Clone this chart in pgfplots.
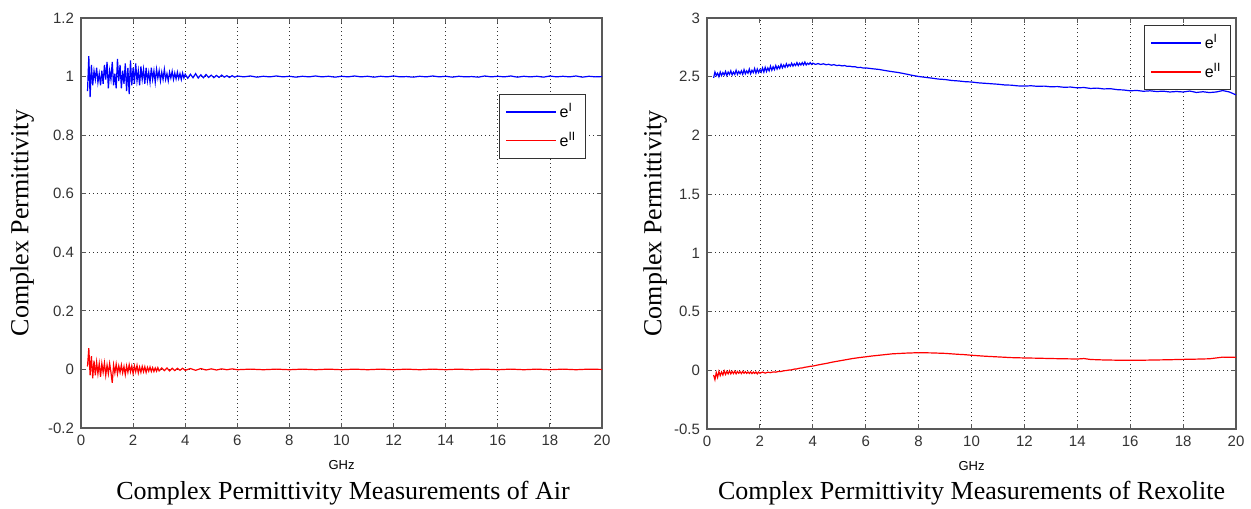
\documentclass[border=0pt]{standalone}
\usepackage{fontspec}
\setmainfont{Liberation Serif}
\setsansfont{Liberation Sans}
\usepackage{pgfplots}
\pgfplotsset{compat=1.18}
\pgfplotsset{
 mystyle/.style={
  scale only axis, anchor=north west,
  xmin=0,xmax=20, xtick={0,2,...,20},
  xticklabels={0,2,4,6,8,10,12,14,16,18,20},
  tick align=inside, major tick length=2.5pt,
  grid=major, major grid style={black!80, line width=0.4pt, dash pattern=on 0.4pt off 1.6pt},
  axis line style={black!65, line width=0.7pt},
  every tick/.style={black!65, line width=0.5pt},
  ticklabel style={font=\sffamily\fontsize{7.5}{8}\selectfont, text=black!80},
  xlabel={GHz}, xlabel style={font=\sffamily\fontsize{6.5}{7}\selectfont, at={(axis description cs:0.5,-0.09)}, anchor=center},
  ylabel={Complex Permittivity}, ylabel style={font=\fontsize{13}{14}\selectfont, anchor=center},
  legend style={draw=black!80, line width=0.6pt, fill=white, font=\sffamily\fontsize{8}{9}\selectfont, anchor=north west, inner xsep=3pt, inner ysep=3pt, row sep=3pt, nodes={inner sep=1.5pt}},
  legend cell align=left,
  legend image code/.code={\draw[#1] (0pt,0pt) -- (25pt,0pt);},
  every axis plot/.append style={line width=0.6pt, mark=none},
 }}
\begin{document}
\begin{tikzpicture}[x=1pt,y=1pt]
\path[use as bounding box] (0,0) rectangle (625.5,-254);
% ---------------- Left: Air ----------------
\begin{axis}[mystyle, at={(40.5pt,-9pt)}, width=260.5pt, height=205pt,
  ymin=-0.2, ymax=1.2, ytick={-0.2,0,0.2,0.4,0.6,0.8,1,1.2},
  yticklabels={-0.2,0,0.2,0.4,0.6,0.8,1,1.2},
  ylabel style={at={(axis description cs:-0.113,0.5)}},
  legend style={at={(0.802,0.815)}}]
\addplot[blue] coordinates {
(0.25,0.95)(0.30,1.07)(0.35,0.93)(0.40,1.04)(0.45,0.97)(0.50,1.02)(0.55,0.99)(0.60,1.03)(0.65,0.98)(0.70,1.01)
(0.75,0.97)(0.80,1.02)(0.85,0.975)(0.90,1.04)(0.95,0.99)(1.00,1.05)(1.05,0.96)(1.10,1.02)(1.15,0.99)(1.20,1.05)
(1.25,0.97)(1.30,1.01)(1.35,0.96)(1.40,1.06)(1.45,0.985)(1.50,1.04)(1.55,0.96)(1.60,1.02)(1.65,0.975)(1.70,1.045)
(1.75,0.95)(1.80,1.03)(1.85,0.94)(1.90,1.055)(1.95,0.97)(2.00,1.03)(2.05,0.975)(2.10,1.045)(2.15,0.985)(2.20,1.02)
(2.25,0.97)(2.30,1.035)(2.35,0.99)(2.40,1.025)(2.45,0.975)(2.50,1.03)(2.55,0.985)(2.60,1.015)(2.65,0.98)(2.70,1.03)
(2.75,0.99)(2.80,1.02)(2.85,0.98)(2.90,1.025)(2.95,0.995)(3.00,1.02)(3.05,0.985)(3.10,1.015)(3.15,0.99)(3.20,1.025)
(3.25,0.99)(3.30,1.01)(3.35,0.985)(3.40,1.015)(3.45,0.995)(3.50,1.018)(3.55,0.99)(3.60,1.012)(3.65,0.992)(3.70,1.015)
(3.75,0.993)(3.80,1.01)(3.85,0.99)(3.90,1.012)(3.95,0.995)(4.00,1.008)
(4.1,0.994)(4.2,1.008)(4.3,0.996)(4.4,1.01)(4.5,0.995)(4.6,1.006)(4.7,0.996)(4.8,1.007)(4.9,0.997)(5.0,1.005)
(5.1,0.996)(5.2,1.004)(5.3,0.997)(5.4,1.005)(5.5,0.998)(5.6,1.003)(5.7,0.997)(5.8,1.003)(5.9,0.998)(6.0,1.002)
(6.25,0.999)(6.5,1.002)(6.75,0.998)(7,1.001)(7.25,0.999)(7.5,1.002)(7.75,0.999)(8,1.001)(8.25,0.998)(8.5,1.001)
(8.75,0.999)(9,1.002)(9.25,0.999)(9.5,1.001)(9.75,0.998)(10,1.001)(10.25,0.999)(10.5,1.002)(10.75,0.999)(11,1.001)
(11.25,0.998)(11.5,1.001)(11.75,0.999)(12,1.002)(12.25,0.999)(12.5,1.0)(12.75,0.998)(13,1.001)(13.25,0.999)(13.5,1.002)
(13.75,0.999)(14,1.001)(14.25,0.998)(14.5,1.001)(14.75,0.999)(15,1.0)(15.25,0.998)(15.5,1.002)(15.75,0.999)(16,1.001)
(16.25,0.999)(16.5,1.002)(16.75,0.998)(17,1.001)(17.25,0.999)(17.5,1.001)(17.75,0.998)(18,1.002)(18.25,0.999)(18.5,1.001)
(18.75,0.999)(19,1.002)(19.25,0.998)(19.5,1.001)(19.75,0.999)(20,1.0)};
\addlegendentry{e\textsuperscript{I}}
\addplot[red] coordinates {
(0.25,0.01)(0.30,0.073)(0.35,-0.02)(0.40,0.045)(0.45,-0.03)(0.50,0.03)(0.55,-0.02)(0.60,0.025)(0.65,-0.015)(0.70,0.02)
(0.75,-0.025)(0.80,0.02)(0.85,-0.01)(0.90,0.022)(0.95,-0.02)(1.00,0.015)(1.05,-0.015)(1.10,0.02)(1.15,-0.01)(1.20,-0.046)
(1.25,0.015)(1.30,-0.012)(1.35,0.018)(1.40,-0.015)(1.45,0.012)(1.50,-0.01)(1.55,0.015)(1.60,-0.012)(1.65,0.01)(1.70,-0.018)
(1.75,0.012)(1.80,-0.01)(1.85,0.016)(1.90,-0.008)(1.95,0.012)(2.00,-0.014)(2.05,0.012)(2.10,-0.008)(2.15,0.014)(2.20,-0.012)
(2.25,0.008)(2.30,-0.01)(2.35,0.01)(2.40,-0.008)(2.45,0.009)(2.50,-0.01)(2.55,0.007)(2.60,-0.006)(2.65,0.008)(2.70,-0.007)
(2.75,0.006)(2.80,-0.007)(2.85,0.005)(2.90,-0.006)(2.95,0.006)(3.00,-0.005)(3.1,0.005)(3.2,-0.004)(3.3,0.005)(3.4,-0.005)
(3.5,0.004)(3.6,-0.004)(3.7,0.004)(3.8,-0.003)(3.9,0.004)(4.0,-0.003)(4.2,0.003)(4.4,-0.003)(4.6,0.003)(4.8,-0.002)
(5.0,0.002)(5.2,-0.002)(5.4,0.002)(5.6,-0.001)(5.8,0.002)(6.0,-0.001)(6.5,0.001)(7,-0.001)(7.5,0.001)(8,-0.001)
(8.5,0.001)(9,-0.001)(9.5,0.001)(10,-0.001)(10.5,0.001)(11,-0.001)(11.5,0.001)(12,-0.001)(12.5,0.001)(13,-0.001)
(13.5,0.001)(14,-0.001)(14.5,0.001)(15,-0.001)(15.5,0.001)(16,-0.001)(16.5,0.001)(17,-0.001)(17.5,0.001)(18,-0.001)
(18.5,0.001)(19,-0.001)(19.5,0.001)(20,0.0)};
\addlegendentry{e\textsuperscript{II}}
\end{axis}
\node[font=\fontsize{13}{15}\selectfont, anchor=center] at (171.5,-246.5) {Complex Permittivity Measurements of Air};
% ---------------- Right: Rexolite ----------------
\begin{axis}[mystyle, at={(353.5pt,-9pt)}, width=264.5pt, height=205.5pt,
  ymin=-0.5, ymax=3, ytick={-0.5,0,0.5,1,1.5,2,2.5,3},
  yticklabels={-0.5,0,0.5,1,1.5,2,2.5,3},
  ylabel style={at={(axis description cs:-0.098,0.5)}},
  legend style={at={(0.826,0.983)}}]
\addplot[blue] coordinates {
(0.25,2.49)(0.30,2.54)(0.35,2.51)(0.40,2.53)(0.45,2.50)(0.50,2.54)(0.55,2.51)(0.60,2.535)(0.65,2.515)(0.70,2.545)
(0.75,2.51)(0.80,2.54)(0.85,2.52)(0.90,2.55)(0.95,2.515)(1.00,2.54)(1.05,2.52)(1.10,2.555)(1.15,2.52)(1.20,2.545)
(1.25,2.525)(1.30,2.55)(1.35,2.52)(1.40,2.56)(1.45,2.525)(1.50,2.55)(1.55,2.53)(1.60,2.565)(1.65,2.525)(1.70,2.555)
(1.75,2.535)(1.80,2.57)(1.85,2.53)(1.90,2.565)(1.95,2.535)(2.00,2.56)(2.05,2.54)(2.10,2.575)(2.15,2.54)(2.20,2.58)
(2.25,2.545)(2.30,2.575)(2.35,2.55)(2.40,2.59)(2.45,2.555)(2.50,2.585)(2.55,2.56)(2.60,2.595)(2.65,2.565)(2.70,2.59)
(2.75,2.57)(2.80,2.605)(2.85,2.575)(2.90,2.60)(2.95,2.58)(3.00,2.61)(3.05,2.585)(3.10,2.605)(3.15,2.59)(3.20,2.615)
(3.25,2.59)(3.30,2.61)(3.35,2.595)(3.40,2.62)(3.45,2.595)(3.50,2.615)(3.55,2.60)(3.60,2.62)(3.65,2.60)(3.70,2.625)
(3.75,2.60)(3.80,2.615)(3.85,2.605)(3.90,2.62)(3.95,2.605)(4.00,2.615)
(4.1,2.605)(4.2,2.612)(4.3,2.604)(4.4,2.61)(4.5,2.602)(4.6,2.606)(4.7,2.598)(4.8,2.603)(4.9,2.595)(5.0,2.598)
(5.1,2.592)(5.2,2.595)(5.3,2.588)(5.4,2.59)(5.5,2.584)(5.6,2.585)(5.7,2.578)(5.8,2.58)(5.9,2.574)(6.0,2.575)
(6.25,2.568)(6.5,2.562)(6.75,2.552)(7,2.543)(7.25,2.535)(7.5,2.524)(7.75,2.512)(8,2.502)(8.25,2.495)(8.5,2.488)
(8.75,2.48)(9,2.476)(9.25,2.468)(9.5,2.464)(9.75,2.458)(10,2.455)(10.25,2.448)(10.5,2.444)(10.75,2.44)(11,2.436)
(11.25,2.43)(11.5,2.428)(11.75,2.422)(12,2.42)(12.25,2.423)(12.5,2.418)(12.75,2.42)(13,2.414)(13.25,2.416)(13.5,2.41)
(13.75,2.412)(14,2.405)(14.25,2.408)(14.5,2.40)(14.75,2.403)(15,2.396)(15.25,2.398)(15.5,2.39)(15.75,2.387)(16,2.38)
(16.25,2.383)(16.5,2.376)(16.75,2.38)(17,2.374)(17.25,2.377)(17.5,2.37)(17.75,2.374)(18,2.37)(18.25,2.378)(18.5,2.366)
(18.75,2.372)(19,2.365)(19.25,2.37)(19.5,2.382)(19.75,2.37)(20,2.345)};
\addlegendentry{e\textsuperscript{I}}
\addplot[red] coordinates {
(0.25,-0.04)(0.30,-0.08)(0.35,-0.02)(0.40,-0.06)(0.45,-0.01)(0.50,-0.045)(0.55,-0.015)(0.60,-0.04)(0.65,-0.005)(0.70,-0.035)
(0.75,-0.01)(0.80,-0.03)(0.85,-0.005)(0.90,-0.03)(0.95,-0.01)(1.00,-0.028)(1.05,-0.008)(1.10,-0.03)(1.15,-0.01)(1.20,-0.025)
(1.25,-0.012)(1.30,-0.028)(1.35,-0.01)(1.40,-0.025)(1.45,-0.012)(1.50,-0.026)(1.55,-0.014)(1.60,-0.027)(1.65,-0.013)(1.70,-0.028)
(1.75,-0.015)(1.80,-0.026)(1.85,-0.014)(1.90,-0.03)(1.95,-0.015)(2.00,-0.025)
(2.1,-0.015)(2.2,-0.024)(2.3,-0.016)(2.4,-0.02)(2.5,-0.014)(2.6,-0.016)(2.7,-0.01)(2.8,-0.01)(2.9,-0.004)(3.0,-0.002)
(3.1,0.002)(3.2,0.004)(3.3,0.01)(3.4,0.012)(3.5,0.018)(3.6,0.02)(3.7,0.026)(3.8,0.029)(3.9,0.034)(4.0,0.036)
(4.25,0.048)(4.5,0.058)(4.75,0.07)(5,0.08)(5.25,0.09)(5.5,0.1)(5.75,0.108)(6,0.115)(6.25,0.122)(6.5,0.128)
(6.75,0.134)(7,0.14)(7.25,0.143)(7.5,0.146)(7.75,0.148)(8,0.15)(8.25,0.149)(8.5,0.148)(8.75,0.146)(9,0.144)
(9.25,0.14)(9.5,0.136)(9.75,0.133)(10,0.128)(10.5,0.12)(11,0.114)(11.5,0.108)(12,0.105)(12.5,0.103)(13,0.1)
(13.5,0.098)(14,0.096)(14.25,0.1)(14.5,0.092)(15,0.088)(15.5,0.086)(16,0.085)(16.5,0.086)(17,0.088)(17.5,0.09)
(18,0.093)(18.5,0.095)(19,0.098)(19.5,0.112)(20,0.11)};
\addlegendentry{e\textsuperscript{II}}
\end{axis}
\node[font=\fontsize{13}{15}\selectfont, anchor=center] at (485.75,-246.5) {Complex Permittivity Measurements of Rexolite};
\end{tikzpicture}
\end{document}
